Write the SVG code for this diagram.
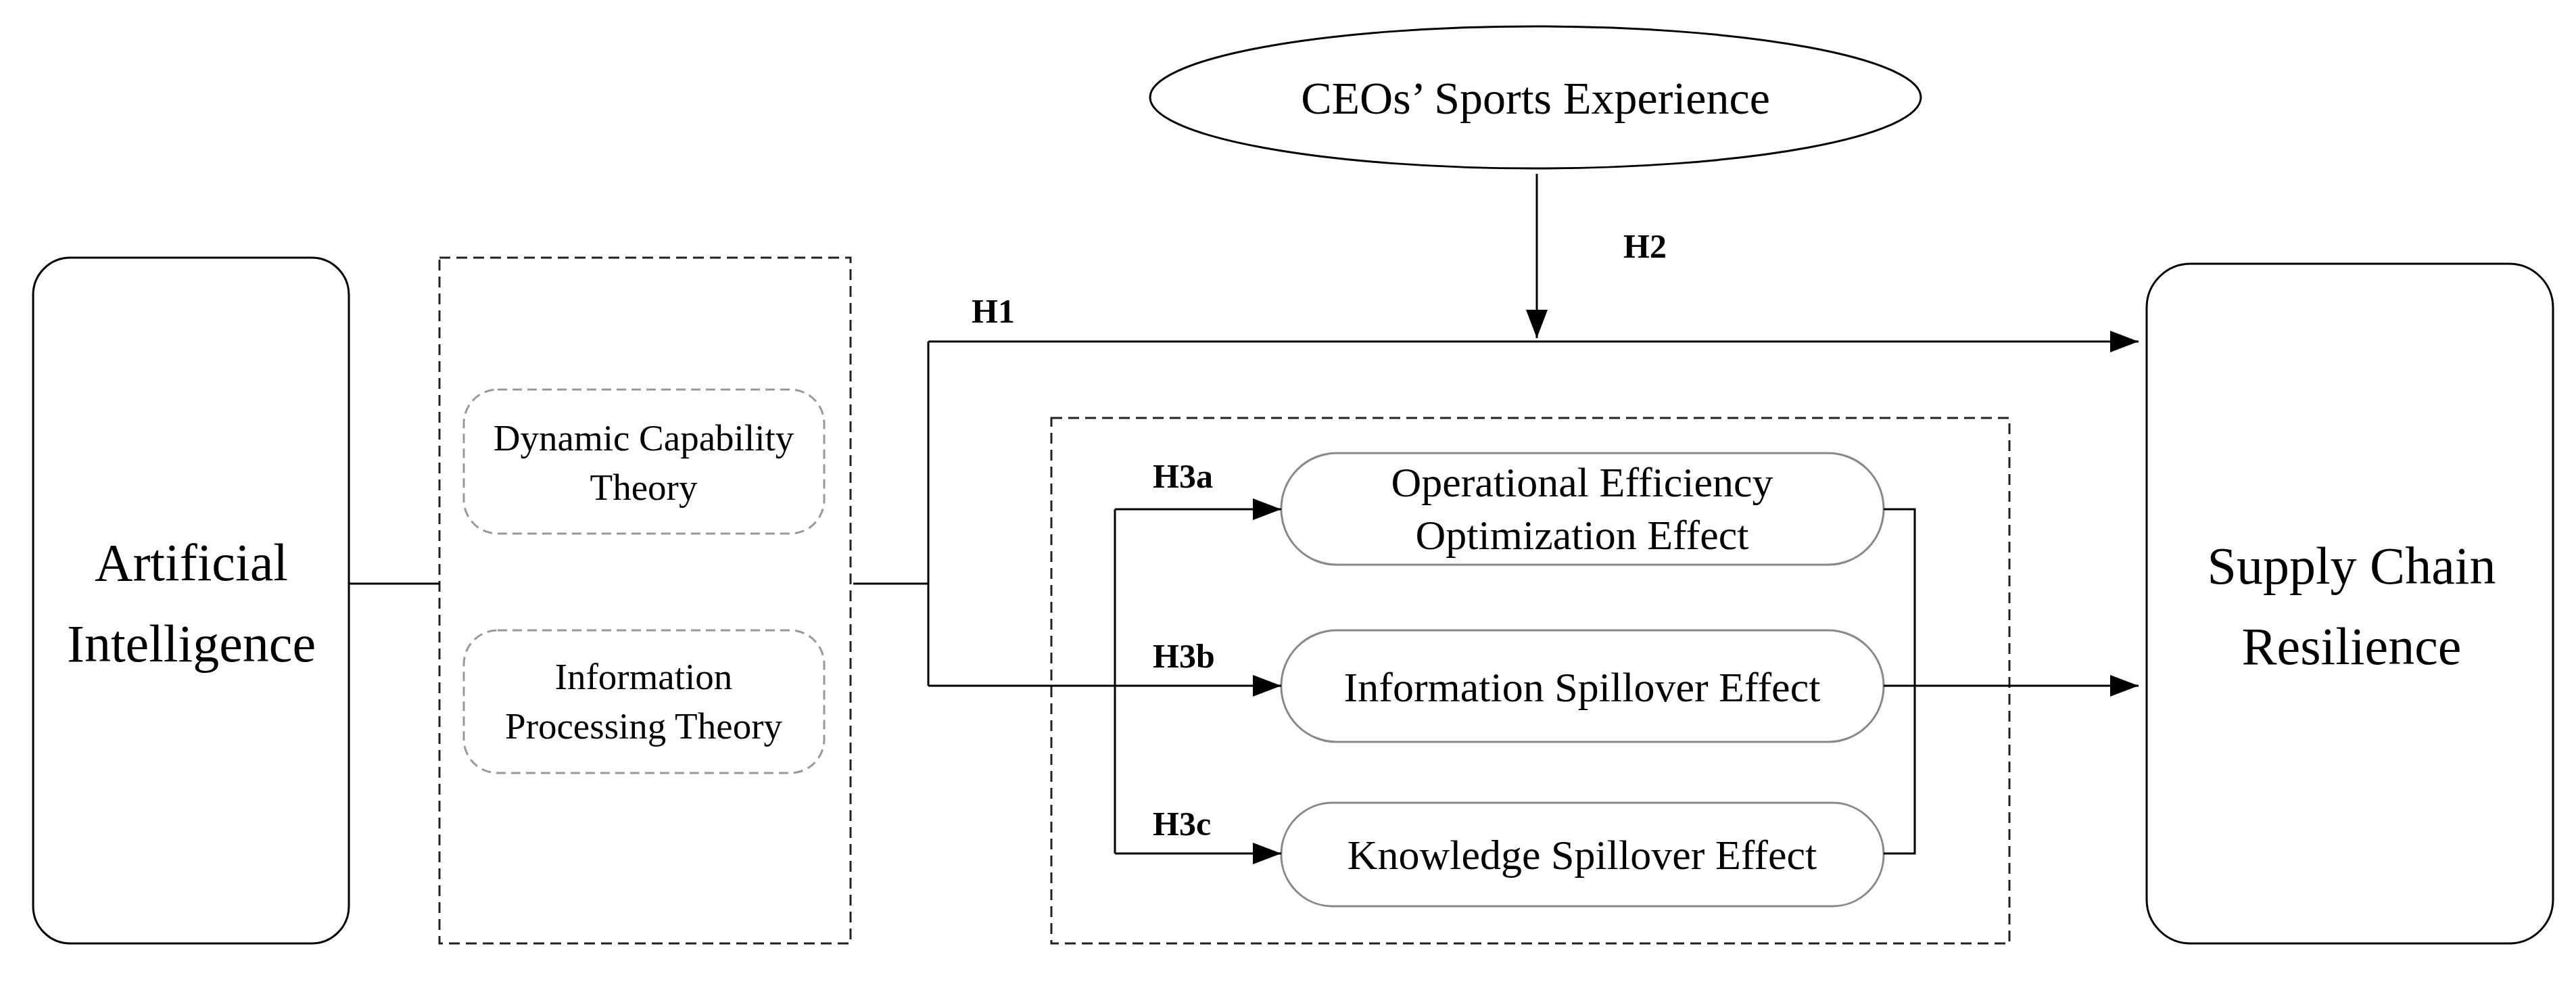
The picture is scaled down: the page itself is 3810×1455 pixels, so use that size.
<svg xmlns="http://www.w3.org/2000/svg" width="3810" height="1455" viewBox="0 0 3810 1455">
<style>
text{font-family:"Liberation Serif","Times New Roman",serif;fill:#000;text-anchor:middle}
.big{font-size:78px}.mid{font-size:62px}.sm{font-size:55px}.lab{font-size:50px;font-weight:bold;text-anchor:start}
.box{fill:#fff;stroke:#000;stroke-width:3}
.dash{fill:none;stroke:#222;stroke-width:3;stroke-dasharray:16 9}
.gdash{fill:#fff;stroke:#999;stroke-width:3;stroke-dasharray:14 8}
.pill{fill:#fff;stroke:#888;stroke-width:3}
.ln{fill:none;stroke:#000;stroke-width:3}
</style>
<defs><marker id="ar" viewBox="0 0 10 10" refX="10" refY="5" markerWidth="13" markerHeight="13" markerUnits="userSpaceOnUse" orient="auto"><path d="M0,0L10,5L0,10z" fill="#000"/></marker>
<marker id="ab" viewBox="0 0 10 10" refX="10" refY="5" markerWidth="42" markerHeight="32" markerUnits="userSpaceOnUse" orient="auto" preserveAspectRatio="none"><path d="M0,0L10,5L0,10z" fill="#000"/></marker></defs>
<g id="theories-frame"><rect class="dash" x="650" y="381" width="608" height="1014"/></g>
<g id="mechanism-frame"><rect class="dash" x="1555" y="618" width="1417" height="777"/></g>
<g id="ai"><rect class="box" x="49" y="381" width="467" height="1014" rx="55"/><text class="big" x="283" y="858">Artificial</text><text class="big" x="283" y="978">Intelligence</text></g>
<g id="dct"><rect class="gdash" x="686" y="576" width="533" height="213" rx="50"/><text class="sm" x="952" y="666">Dynamic Capability</text><text class="sm" x="952" y="739">Theory</text></g>
<g id="ipt"><rect class="gdash" x="686" y="932" width="533" height="211" rx="50"/><text class="sm" x="952" y="1019">Information</text><text class="sm" x="952" y="1092">Processing Theory</text></g>
<g id="ceo"><ellipse cx="2271" cy="144" rx="570" ry="105" fill="#fff" stroke="#000" stroke-width="3"/><text class="mid" x="2271" y="168" style="font-size:68px">CEOs’ Sports Experience</text></g>
<g id="oe"><rect class="pill" x="1895" y="670" width="891" height="165" rx="82"/><text class="mid" x="2340" y="734">Operational Efficiency</text><text class="mid" x="2340" y="812">Optimization Effect</text></g>
<g id="is"><rect class="pill" x="1895" y="932" width="891" height="165" rx="82"/><text class="mid" x="2340" y="1037">Information Spillover Effect</text></g>
<g id="ks"><rect class="pill" x="1895" y="1187" width="891" height="153" rx="76"/><text class="mid" x="2340" y="1285">Knowledge Spillover Effect</text></g>
<g id="scr"><rect class="box" x="3175" y="390" width="601" height="1005" rx="65"/><text class="big" x="3478" y="863">Supply Chain</text><text class="big" x="3478" y="982">Resilience</text></g>
<g id="connectors">
<path class="ln" d="M516,863H650M1262,863H1373M1373,505V1014"/>
<path class="ln" d="M1373,505H3163" marker-end="url(#ab)"/>
<path class="ln" d="M2273,257V500" marker-end="url(#ab)"/>
<path class="ln" d="M1373,1014H1895" marker-end="url(#ab)"/>
<path class="ln" d="M1649,753V1262"/>
<path class="ln" d="M1649,753H1895" marker-end="url(#ab)"/>
<path class="ln" d="M1649,1262H1895" marker-end="url(#ab)"/>
<path class="ln" d="M2786,753H2832V1262H2786"/>
<path class="ln" d="M2786,1014H3163" marker-end="url(#ab)"/>
<text class="lab" x="1437" y="477">H1</text>
<text class="lab" x="2401" y="381">H2</text>
<text class="lab" x="1705" y="721">H3a</text>
<text class="lab" x="1705" y="987">H3b</text>
<text class="lab" x="1705" y="1235">H3c</text>
</g>
</svg>
